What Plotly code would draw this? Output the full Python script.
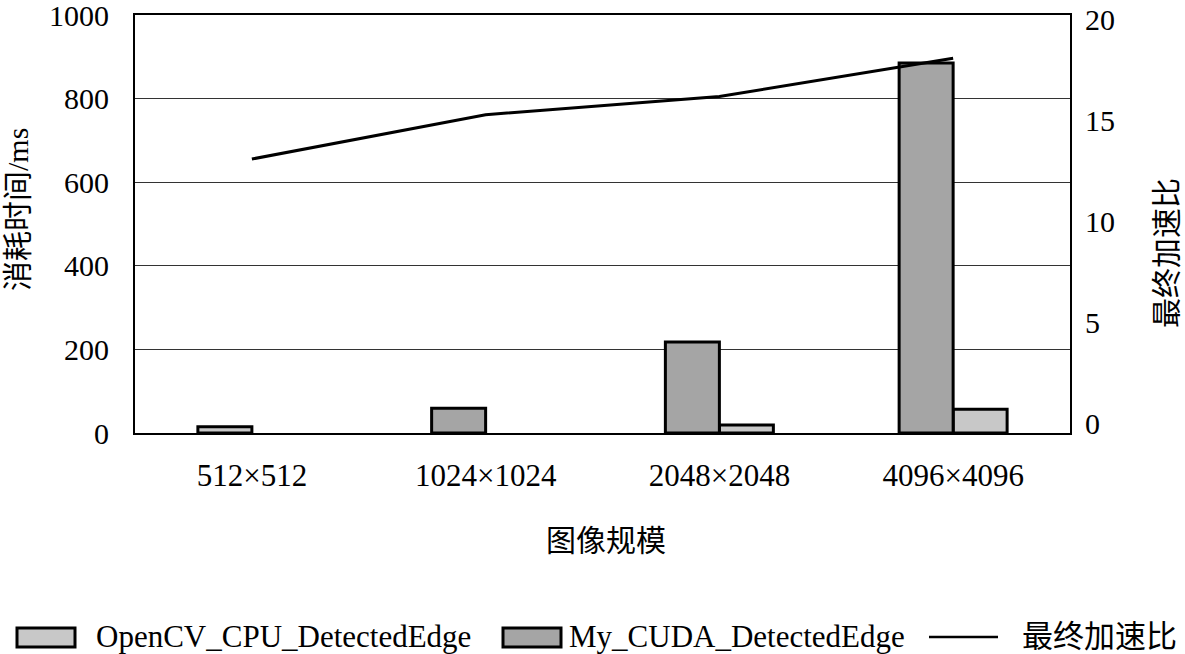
import plotly.graph_objects as go

categories = ["512×512", "1024×1024", "2048×2048", "4096×4096"]
opencv_cpu = [15, None, 19, 57]
my_cuda = [None, 59, 218, 885]
speedup = [13.1, 15.3, 16.2, 18.1]
left_ticks = [0, 200, 400, 600, 800, 1000]
right_ticks = [0, 5, 10, 15, 20]

LIGHT = "#c8c8c8"
DARK = "#a5a5a5"
SERIF = "Liberation Serif, Times New Roman, Noto Sans CJK SC"
CJK = "Noto Sans CJK SC"
BW = 0.231

L, R, T, B = 135, 1070, 15, 433

fig = go.Figure()
fig.add_trace(go.Bar(
    x=categories, y=opencv_cpu, name="OpenCV_CPU_DetectedEdge",
    width=BW, offset=[-BW, 0, 0, 0],
    marker=dict(color=LIGHT, line=dict(color="black", width=3)),
    showlegend=False,
))
fig.add_trace(go.Bar(
    x=categories, y=my_cuda, name="My_CUDA_DetectedEdge",
    width=BW, offset=-BW,
    marker=dict(color=DARK, line=dict(color="black", width=3)),
    showlegend=False,
))
fig.add_trace(go.Scatter(
    x=categories, y=speedup, name="最终加速比", mode="lines",
    line=dict(color="black", width=3), yaxis="y2", showlegend=False,
))

fig.update_layout(
    width=1185, height=654,
    margin=dict(l=L, r=1185 - R, t=T, b=654 - B, autoexpand=False),
    paper_bgcolor="white", plot_bgcolor="white",
    barmode="overlay",
    font=dict(family=SERIF, size=30, color="black"),
    xaxis=dict(
        type="category", showline=True, linecolor="black", linewidth=2,
        mirror=True, showgrid=False, ticks="", ticklabelstandoff=14,
        tickfont=dict(family=SERIF, size=31), automargin=False,
        ticklabeloverflow="allow",
    ),
    yaxis=dict(
        range=[0, 1000], tickvals=left_ticks, showline=True, linecolor="black",
        linewidth=2, mirror=True, showgrid=True, gridcolor="#333", gridwidth=1,
        zeroline=False, ticks="", ticklabelstandoff=18, automargin=False,
        tickfont=dict(family=SERIF, size=30), ticklabeloverflow="allow",
    ),
    yaxis2=dict(
        overlaying="y", side="right", range=[-0.49, 20.245], tickvals=right_ticks,
        showgrid=False, zeroline=False, showline=False, ticks="",
        ticklabelstandoff=14, tickfont=dict(family=SERIF, size=30), automargin=False,
        ticklabeloverflow="allow",
    ),
)

def px_x(px):
    return (px - L) / (R - L)

def px_y(py):
    return (B - py) / (B - T)

# Axis titles
fig.add_annotation(xref="paper", yref="paper", x=px_x(606), y=px_y(538),
                   text="图像规模", showarrow=False, xanchor="center", yanchor="middle",
                   font=dict(family=CJK, size=30, color="black"))
fig.add_annotation(xref="paper", yref="paper", x=px_x(17), y=px_y(210),
                   text="消耗时间/ms", showarrow=False, textangle=-90,
                   xanchor="center", yanchor="middle",
                   font=dict(family=SERIF, size=30, color="black"))
fig.add_annotation(xref="paper", yref="paper", x=px_x(1164), y=px_y(253),
                   text="最终加速比", showarrow=False, textangle=-90,
                   xanchor="center", yanchor="middle",
                   font=dict(family=CJK, size=30, color="black"))

# Manual legend
legend_items = [
    ("box", LIGHT, 17, 75, 94, "OpenCV_CPU_DetectedEdge"),
    ("box", DARK, 503, 561, 567, "My_CUDA_DetectedEdge"),
    ("line", "black", 929, 998, 1020, "最终加速比"),
]
for kind, color, x0, x1, tx, label in legend_items:
    if kind == "box":
        fig.add_shape(type="rect", xref="paper", yref="paper",
                      x0=px_x(x0), x1=px_x(x1), y0=px_y(647), y1=px_y(628),
                      fillcolor=color, line=dict(color="black", width=3))
    else:
        fig.add_shape(type="line", xref="paper", yref="paper",
                      x0=px_x(x0), x1=px_x(x1), y0=px_y(637), y1=px_y(637),
                      line=dict(color="black", width=2.5))
    fig.add_annotation(xref="paper", yref="paper", x=px_x(tx), y=px_y(636),
                       text=label, showarrow=False, xanchor="left", yanchor="middle",
                       font=dict(family=SERIF, size=31, color="black"))

fig.write_html("out.html", config={"displayModeBar": False},
               post_script="document.body.style.margin='0';")
